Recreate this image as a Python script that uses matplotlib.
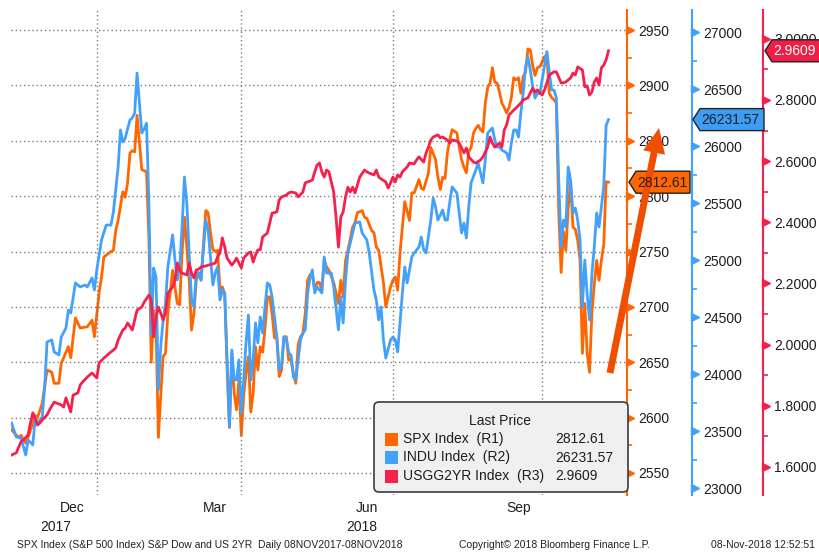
import numpy as np
import pandas as pd
import matplotlib
matplotlib.use("Agg")
import matplotlib.pyplot as plt
from matplotlib.patches import FancyBboxPatch, Polygon, FancyArrowPatch, Rectangle, ArrowStyle

plt.rcParams['font.family'] = ['Liberation Sans', 'DejaVu Sans']

W, H = 820, 552

# trading days 08NOV2017 - 08NOV2018 (x axis is trading-day number)
holidays = pd.to_datetime(['2017-11-23', '2017-12-25', '2018-01-01', '2018-01-15',
                           '2018-02-19', '2018-03-30', '2018-05-28', '2018-07-04',
                           '2018-09-03'])
days = pd.bdate_range('2017-11-08', '2018-11-08')
days = days[~days.isin(holidays)]

# (trading day, value)
spx_pts = [(0, 2589), (3, 2582), (4, 2584), (6, 2577), (7, 2582), (9, 2595), (10, 2602),
           (11, 2600), (13, 2613), (14, 2628), (15, 2643), (17, 2641), (18, 2631), (20, 2631),
           (21, 2649), (24, 2664), (25, 2654), (27, 2690), (29, 2681), (32, 2682), (34, 2688),
           (35, 2673), (37, 2713), (38, 2727), (39, 2745), (42, 2750), (43, 2751), (44, 2769),
           (45, 2778), (47, 2804), (48, 2799), (49, 2812), (50, 2839), (51, 2841), (52, 2840),
           (53, 2873), (55, 2824), (56, 2823), (57, 2822), (58, 2762), (59, 2650), (60, 2697),
           (61, 2685), (62, 2582), (63, 2620), (64, 2655), (65, 2658), (66, 2694), (68, 2733),
           (69, 2718), (70, 2703), (71, 2702), (72, 2749), (73, 2781), (74, 2754), (75, 2724),
           (76, 2679), (77, 2694), (78, 2724), (79, 2731), (80, 2724), (82, 2787), (83, 2785),
           (84, 2767), (85, 2752), (86, 2750), (87, 2751), (88, 2715), (89, 2718), (90, 2712),
           (91, 2645), (92, 2591), (93, 2658), (94, 2622), (95, 2607), (96, 2634), (97, 2584),
           (98, 2620), (99, 2640), (100, 2655), (101, 2605), (102, 2622), (103, 2664),
           (104, 2643), (105, 2664), (106, 2659), (107, 2680), (108, 2709), (109, 2709),
           (110, 2694), (111, 2672), (112, 2672), (113, 2637), (114, 2643), (115, 2673),
           (116, 2673), (117, 2652), (118, 2652), (119, 2640), (120, 2631), (121, 2666),
           (122, 2673), (123, 2676), (124, 2694), (125, 2724), (126, 2729), (127, 2729),
           (128, 2715), (129, 2722), (130, 2722), (131, 2715), (132, 2742), (133, 2736),
           (134, 2733), (136, 2722), (138, 2703), (139, 2724), (140, 2709), (141, 2742),
           (142, 2751), (144, 2772), (145, 2776), (146, 2785), (148, 2787), (149, 2781),
           (150, 2780), (152, 2769), (153, 2767), (154, 2754), (155, 2751), (157, 2722),
           (158, 2700), (160, 2718), (161, 2724), (162, 2727), (163, 2715), (164, 2749),
           (165, 2772), (166, 2795), (168, 2778), (169, 2803), (170, 2803), (172, 2815),
           (173, 2807), (174, 2806), (176, 2821), (177, 2844), (179, 2833), (180, 2817),
           (181, 2806), (182, 2817), (183, 2816), (184, 2839), (185, 2851), (186, 2860),
           (188, 2857), (189, 2844), (190, 2833), (191, 2826), (192, 2821), (193, 2840),
           (194, 2844), (195, 2857), (196, 2861), (197, 2864), (198, 2860), (199, 2858),
           (200, 2884), (201, 2898), (202, 2902), (203, 2916), (204, 2903), (205, 2902),
           (206, 2894), (207, 2884), (208, 2880), (209, 2875), (210, 2880), (211, 2889),
           (212, 2907), (213, 2905), (214, 2907), (215, 2893), (216, 2908), (217, 2912),
           (218, 2933), (219, 2932), (220, 2918), (221, 2909), (222, 2916), (223, 2917),
           (224, 2921), (225, 2926), (226, 2927), (227, 2893), (228, 2889), (229, 2887),
           (230, 2884), (231, 2786), (232, 2731), (233, 2768), (234, 2751), (235, 2790),
           (236, 2812), (237, 2772), (238, 2770), (239, 2760), (240, 2742), (241, 2658),
           (242, 2703), (243, 2658), (244, 2641), (245, 2695), (246, 2720), (247, 2742),
           (248, 2724), (249, 2742), (250, 2756), (251, 2813), (252, 2812.61)]

indu_pts = [(0, 23571), (2, 23448), (4, 23439), (6, 23290), (7, 23422), (9, 23378),
            (10, 23615), (11, 23571), (13, 23624), (14, 23887), (15, 24281), (17, 24299),
            (18, 24194), (20, 24167), (21, 24325), (23, 24404), (24, 24562), (25, 24536),
            (27, 24799), (29, 24764), (31, 24781), (32, 24764), (34, 24843), (35, 24737),
            (36, 24913), (38, 25176), (40, 25307), (42, 25307), (43, 25421), (45, 25816),
            (46, 26141), (47, 26035), (48, 26070), (50, 26228), (51, 26246), (52, 26290),
            (53, 26640), (55, 26114), (56, 26150), (57, 26200), (58, 25500), (59, 24350),
            (60, 24930), (61, 24850), (62, 23860), (63, 24240), (64, 24470), (65, 24620),
            (66, 24940), (68, 25220), (69, 25000), (70, 24825), (71, 24939), (72, 25290),
            (73, 25728), (74, 25500), (75, 25062), (76, 24650), (77, 24588), (78, 24886),
            (79, 24886), (80, 24825), (82, 25351), (83, 25263), (84, 25027), (85, 24781),
            (86, 24886), (87, 24939), (88, 24650), (89, 24737), (90, 24711), (91, 24124),
            (92, 23536), (93, 24211), (94, 23948), (95, 23948), (96, 24124), (97, 23659),
            (98, 23948), (99, 24273), (100, 24518), (101, 23948), (102, 24124), (103, 24448),
            (104, 24273), (105, 24500), (106, 24360), (107, 24588), (108, 24799), (109, 24781),
            (110, 24676), (112, 24325), (113, 24036), (114, 24080), (115, 24325), (116, 24316),
            (117, 24185), (118, 24167), (119, 23974), (120, 23948), (122, 24299), (123, 24360),
            (124, 24387), (125, 24711), (126, 24843), (127, 24913), (128, 24711), (129, 24764),
            (131, 24711), (132, 25027), (133, 24886), (135, 24886), (136, 24764), (138, 24387),
            (139, 24676), (140, 24448), (141, 24825), (142, 25062), (144, 25237), (145, 25325),
            (147, 25334), (148, 25237), (150, 25176), (151, 25062), (153, 24737), (154, 24650),
            (155, 24474), (156, 24588), (157, 24299), (158, 24141), (160, 24299), (161, 24325),
            (162, 24299), (163, 24194), (164, 24448), (165, 24711), (166, 24939), (167, 24799),
            (169, 25027), (170, 25062), (172, 25114), (173, 25202), (174, 25088), (175, 25062),
            (177, 25351), (178, 25544), (179, 25465), (180, 25351), (182, 25439), (183, 25351),
            (184, 25351), (185, 25509), (186, 25641), (188, 25588), (189, 25413), (190, 25237),
            (191, 25325), (192, 25193), (193, 25465), (194, 25676), (196, 25790), (197, 25851),
            (199, 25676), (200, 25877), (201, 26114), (203, 26158), (204, 26053), (205, 25991),
            (206, 25991), (207, 25965), (209, 25939), (210, 25877), (211, 26026), (212, 26141),
            (213, 26141), (214, 26079), (215, 26290), (216, 26465), (217, 26700), (218, 26780),
            (219, 26667), (220, 26518), (221, 26421), (222, 26465), (223, 26458), (224, 26580),
            (225, 26700), (226, 26828), (227, 26650), (228, 26491), (229, 26491), (230, 26420),
            (231, 25700), (232, 25114), (233, 25351), (234, 25290), (235, 25816), (236, 25700),
            (237, 25413), (238, 25456), (239, 25351), (240, 25176), (241, 24588), (242, 25000),
            (243, 24700), (244, 24474), (245, 24880), (246, 25116), (247, 25413), (248, 25290),
            (249, 25465), (250, 25650), (251, 26180), (252, 26231.57)]

ust_pts = [(0, 1.639), (2, 1.646), (4, 1.682), (5, 1.688), (7, 1.705), (8, 1.744), (9, 1.777),
           (11, 1.737), (12, 1.744), (13, 1.754), (15, 1.770), (16, 1.786), (18, 1.812),
           (19, 1.809), (21, 1.803), (22, 1.796), (23, 1.826), (25, 1.780), (26, 1.835),
           (28, 1.842), (29, 1.868), (30, 1.878), (32, 1.894), (33, 1.901), (34, 1.907),
           (36, 1.891), (37, 1.940), (39, 1.956), (40, 1.963), (42, 1.976), (44, 1.989),
           (45, 2.015), (47, 2.048), (48, 2.054), (49, 2.071), (51, 2.048), (52, 2.081),
           (53, 2.113), (55, 2.123), (56, 2.139), (58, 2.162), (59, 2.146), (60, 2.025),
           (61, 2.090), (62, 2.123), (63, 2.103), (64, 2.081), (65, 2.103), (66, 2.169),
           (68, 2.188), (69, 2.211), (70, 2.267), (71, 2.244), (72, 2.234), (74, 2.228),
           (75, 2.267), (76, 2.234), (77, 2.218), (78, 2.244), (79, 2.247), (80, 2.254),
           (82, 2.257), (83, 2.260), (85, 2.264), (86, 2.267), (87, 2.287), (88, 2.300),
           (89, 2.349), (90, 2.319), (91, 2.283), (93, 2.260), (94, 2.270), (95, 2.283),
           (96, 2.267), (97, 2.251), (98, 2.283), (100, 2.300), (101, 2.303), (102, 2.270),
           (103, 2.293), (104, 2.310), (105, 2.310), (106, 2.352), (108, 2.365), (109, 2.398),
           (110, 2.430), (112, 2.434), (113, 2.473), (114, 2.483), (116, 2.489), (117, 2.496),
           (118, 2.499), (120, 2.496), (121, 2.483), (123, 2.499), (124, 2.529), (125, 2.532),
           (127, 2.538), (128, 2.565), (129, 2.587), (130, 2.594), (131, 2.565), (132, 2.548),
           (133, 2.571), (134, 2.565), (135, 2.532), (136, 2.499), (137, 2.417), (138, 2.319),
           (139, 2.417), (140, 2.434), (141, 2.483), (142, 2.515), (143, 2.499), (144, 2.515),
           (145, 2.496), (146, 2.522), (147, 2.548), (149, 2.571), (150, 2.565), (151, 2.561),
           (153, 2.555), (154, 2.571), (155, 2.548), (156, 2.542), (158, 2.532), (159, 2.512),
           (160, 2.529), (161, 2.548), (162, 2.532), (163, 2.555), (164, 2.548), (165, 2.565),
           (167, 2.581), (168, 2.594), (170, 2.591), (171, 2.604), (172, 2.614), (174, 2.597),
           (175, 2.627), (176, 2.646), (177, 2.669), (178, 2.679), (180, 2.686), (181, 2.676),
           (182, 2.679), (184, 2.669), (185, 2.659), (186, 2.669), (188, 2.666), (189, 2.659),
           (191, 2.627), (192, 2.643), (193, 2.614), (195, 2.597), (196, 2.594), (198, 2.604),
           (199, 2.614), (201, 2.646), (202, 2.679), (203, 2.659), (204, 2.646), (206, 2.659),
           (207, 2.646), (208, 2.702), (209, 2.718), (210, 2.751), (212, 2.767), (213, 2.774),
           (215, 2.790), (216, 2.800), (218, 2.807), (219, 2.823), (220, 2.839), (221, 2.826),
           (222, 2.833), (224, 2.816), (225, 2.833), (226, 2.856), (227, 2.882), (229, 2.892),
           (230, 2.892), (232, 2.856), (233, 2.856), (234, 2.859), (236, 2.872), (237, 2.888),
           (238, 2.882), (239, 2.908), (241, 2.898), (242, 2.843), (243, 2.846), (244, 2.816),
           (245, 2.826), (246, 2.859), (247, 2.872), (248, 2.849), (249, 2.905), (250, 2.914),
           (251, 2.931), (252, 2.9609)]

names = ['SPX Index  (R1)', 'INDU Index  (R2)', 'USGG2YR Index  (R3)']
last_txt = ['2812.61', '26231.57', '2.9609']
months = ['Dec', 'Mar', 'Jun', 'Sep']
month_keys = ['2017-12', '2018-03', '2018-06', '2018-09']
grid_keys = ['2018-01', '2018-04', '2018-07', '2018-10']

c_spx, c_indu, c_ust = '#ff6600', '#42a1fb', '#f5204c'
colors = [c_spx, c_indu, c_ust]

fig = plt.figure(figsize=(W / 100, H / 100), dpi=100)
L, R, T, B = 11.5, 627, 10, 495
ax = fig.add_axes([L / W, 1 - B / H, (R - L) / W, (B - T) / H])
ax2 = ax.twinx()
ax3 = ax.twinx()

for a, pts, c in [(ax, spx_pts, c_spx), (ax2, indu_pts, c_indu), (ax3, ust_pts, c_ust)]:
    d, v = zip(*pts)
    a.plot(d, v, color=c, lw=2.0, solid_joinstyle='round')


def right_axis(a, pos, color, major, minor, fmt):
    for s in ['top', 'left', 'bottom']:
        a.spines[s].set_visible(False)
    a.spines['right'].set_position(('axes', pos))
    a.spines['right'].set_color(color)
    a.spines['right'].set_linewidth(1.5)
    a.yaxis.tick_right()
    a.set_yticks(major)
    a.set_yticks(minor, minor=True)
    a.set_yticklabels([fmt % v for v in major])
    a.tick_params(axis='y', which='major', length=0, pad=8, labelsize=10, labelcolor='#1e1e1e')
    a.tick_params(axis='y', which='minor', length=3.5, width=1.2, color=color)
    a.plot([pos + 0.005] * len(major), major, ls='none', marker='>', ms=5.5, color=color,
           transform=a.get_yaxis_transform(), clip_on=False)


right_axis(ax, 1.0, c_spx, np.arange(2550, 2951, 50), np.arange(2575, 2951, 50), '%d')
right_axis(ax2, (692 - L) / (R - L), c_indu, np.arange(23000, 27001, 500),
           np.arange(23250, 27001, 500), '%d')
right_axis(ax3, (763 - L) / (R - L), c_ust, np.arange(1.6, 3.01, 0.2),
           np.arange(1.7, 3.01, 0.2), '%.4f')

ax.set_ylim(2530.1, 2968.1)
ax2.set_ylim(22939, 27193)
ax3.set_ylim(1.5083, 3.0943)
ax.set_xlim(0, (R - L) / 2.369)

# grid
gstyle = dict(color='#7a7a7a', linestyle=(0, (1, 2)), linewidth=1.0)
ax.grid(axis='y', which='major', **gstyle)
ym = days.strftime('%Y-%m')
for k in grid_keys:
    ax.axvline(np.where(ym == k)[0][0], **gstyle)

centers = [np.where(ym == k)[0].mean() for k in month_keys]
ax.set_xticks(centers, months)
ax.tick_params(axis='x', length=0, pad=4, labelsize=10, labelcolor='#1e1e1e')
ax.text(centers[0] - 7, -0.065, '2017', transform=ax.get_xaxis_transform(),
        ha='center', va='center', fontsize=10, color='#1e1e1e')
ax.text(centers[2] - 2, -0.065, '2018', transform=ax.get_xaxis_transform(),
        ha='center', va='center', fontsize=10, color='#1e1e1e')

# footer
fig.text(17 / W, 1 - 545 / H, 'SPX Index (S&P 500 Index) S&P Dow and US 2YR  Daily 08NOV2017-08NOV2018',
         fontsize=7.5, va='center', ha='left', color='#222222')
fig.text(459 / W, 1 - 545 / H, 'Copyright\u00a9 2018 Bloomberg Finance L.P.',
         fontsize=7.5, va='center', ha='left', color='#222222')
fig.text(815 / W, 1 - 545 / H, '08-Nov-2018 12:52:51',
         fontsize=7.5, va='center', ha='right', color='#222222')

# overlay in pixel coordinates for legend, value tags and arrow
ov = fig.add_axes([0, 0, 1, 1])
ov.set_xlim(0, W)
ov.set_ylim(H, 0)
ov.axis('off')
ov.patch.set_alpha(0)

ov.add_patch(FancyBboxPatch((374, 402), 254, 90, boxstyle='round,pad=0,rounding_size=5',
                            fc='#f0f0f0', ec='#3c3c3c', lw=1.2))
ov.text(500, 421, 'Last Price', ha='center', va='center', fontsize=10, color='#1e1e1e')
for i, (n, v, c) in enumerate(zip(names, last_txt, colors)):
    yy = 439 + i * 18.5
    ov.add_patch(Rectangle((385, yy - 6.5), 13, 13, fc=c, ec='none'))
    ov.text(403, yy, n, ha='left', va='center', fontsize=10, color='#1e1e1e')
    ov.text(555, yy, v, ha='left', va='center', fontsize=10, color='#1e1e1e')

# last value tags on each axis
for a, pts, xs, xe, c, tc, v in [(ax, spx_pts, 629, 690, '#ff6600', '#1e1e1e', last_txt[0]),
                                 (ax2, indu_pts, 693, 764, '#3d9df5', '#1e1e1e', last_txt[1]),
                                 (ax3, ust_pts, 765, 822, '#f01e46', 'white', last_txt[2])]:
    yc = H - a.transData.transform((0, pts[-1][1]))[1]
    ov.add_patch(Polygon([(xs, yc), (xs + 7, yc - 11), (xe, yc - 11), (xe, yc + 11),
                          (xs + 7, yc + 11)], closed=True, fc=c, ec='#222222', lw=1.0,
                         clip_on=False))
    ov.text(xs + 8.5, yc + 0.5, v, ha='left', va='center', fontsize=10, color=tc, clip_on=False)

# arrow
ov.add_patch(FancyArrowPatch((610, 373), (659, 128),
                             arrowstyle=ArrowStyle('simple', head_length=18, head_width=16,
                                                   tail_width=5),
                             mutation_scale=1, fc='#f04e00', ec='none', shrinkA=0, shrinkB=0))

fig.savefig('out.png', dpi=100)
